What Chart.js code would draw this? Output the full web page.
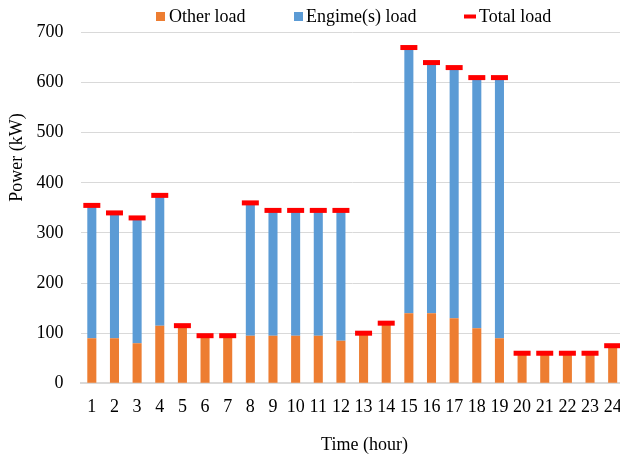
<!DOCTYPE html>
<html>
<head>
<meta charset="utf-8">
<script src="https://cdn.jsdelivr.net/npm/chart.js@4.4.1/dist/chart.umd.min.js"></script>
<style>
  html, body { margin: 0; padding: 0; background: #fff; overflow: hidden; }
  #wrap { width: 620px; height: 455px; overflow: hidden; }
  canvas { display: block; }
</style>
</head>
<body>
<div id="wrap"><canvas id="c" width="624" height="455"></canvas></div>
<script>
// Hourly load profile: other load, engine load and the total
const hours = ['1','2','3','4','5','6','7','8','9','10','11','12','13','14','15','16','17','18','19','20','21','22','23','24'];
const otherLoad = [90, 90, 80, 115, 115, 95, 95, 95, 95, 95, 95, 85, 100, 120, 140, 140, 130, 110, 90, 60, 60, 60, 60, 75];
const engineLoad = [265, 250, 250, 260, 0, 0, 0, 265, 250, 250, 250, 260, 0, 0, 530, 500, 500, 500, 520, 0, 0, 0, 0, 0];
const totalLoad = [355, 340, 330, 375, 115, 95, 95, 360, 345, 345, 345, 345, 100, 120, 670, 640, 630, 610, 610, 60, 60, 60, 60, 75];
const yTicks = [0, 100, 200, 300, 400, 500, 600, 700];

const FONT = "'Liberation Serif', 'Times New Roman', serif";
const FONT_SIZE = 18;
const ORANGE = '#ED7D31';
const BLUE = '#5B9BD5';
const RED = '#FF0000';

// Legend and axis titles drawn as text on the canvas
const annotations = {
  id: 'annotations',
  afterDraw(chart) {
    const ctx = chart.ctx;
    ctx.save();
    ctx.fillStyle = '#000';
    ctx.font = FONT_SIZE + 'px ' + FONT;
    ctx.textBaseline = 'middle';

    // legend
    const ly = 16.5;
    const items = [
      { ds: chart.data.datasets[0], x: 156, tx: 169, kind: 'box' },
      { ds: chart.data.datasets[1], x: 294, tx: 306, kind: 'box' },
      { ds: chart.data.datasets[2], x: 464, tx: 479, kind: 'dash' }
    ];
    items.forEach(it => {
      if (it.kind === 'box') {
        ctx.fillStyle = it.ds.backgroundColor;
        ctx.fillRect(it.x, ly - 4.5, 9, 9);
      } else {
        ctx.fillStyle = it.ds.borderColor;
        ctx.fillRect(it.x, ly - 2, 12, 4);
      }
      ctx.fillStyle = '#000';
      ctx.textAlign = 'left';
      ctx.fillText(it.ds.label, it.tx, ly + 1);
    });

    // x title
    ctx.textAlign = 'center';
    ctx.fillText('Time (hour)', 364.5, 445);

    // y title
    ctx.translate(17.5, 157.5);
    ctx.rotate(-Math.PI / 2);
    ctx.fillText('Power (kW)', 0, 0);
    ctx.restore();
  }
};

new Chart(document.getElementById('c'), {
  data: {
    labels: hours,
    datasets: [
      {
        type: 'bar',
        label: 'Other load',
        data: otherLoad,
        backgroundColor: ORANGE,
        stack: 'load',
        order: 1,
        barPercentage: 0.4,
        categoryPercentage: 1.0
      },
      {
        type: 'bar',
        label: 'Engime(s) load',
        data: engineLoad,
        backgroundColor: BLUE,
        stack: 'load',
        order: 1,
        barPercentage: 0.4,
        categoryPercentage: 1.0
      },
      {
        type: 'line',
        label: 'Total load',
        data: totalLoad,
        showLine: false,
        stack: 'total',
        order: 0,
        borderColor: RED,
        backgroundColor: RED,
        pointStyle: 'line',
        pointRadius: 8.5,
        pointHoverRadius: 8.5,
        pointBorderWidth: 5,
        pointBorderColor: RED,
        clip: false
      }
    ]
  },
  options: {
    responsive: false,
    animation: false,
    devicePixelRatio: 1,
    layout: { autoPadding: false, padding: { top: 32.5, right: 0, bottom: 0, left: 0 } },
    plugins: {
      legend: { display: false },
      tooltip: { enabled: false }
    },
    scales: {
      x: {
        stacked: true,
        offset: true,
        grid: { display: false, drawTicks: false },
        border: { display: true, color: '#D9D9D9', width: 2 },
        ticks: { color: '#000', font: { family: FONT, size: FONT_SIZE }, padding: 13, maxRotation: 0, autoSkip: false },
        afterFit(scale) {
          scale.height = 455 - 383.3;
          scale.paddingLeft = 0;
          scale.paddingRight = 0;
        }
      },
      y: {
        stacked: true,
        min: 0,
        max: 700,
        afterBuildTicks(scale) { scale.ticks = yTicks.map(v => ({ value: v })); },
        grid: { color: '#D9D9D9', lineWidth: 1, drawTicks: false },
        border: { display: false },
        ticks: { color: '#000', font: { family: FONT, size: FONT_SIZE }, padding: 17 },
        afterFit(scale) {
          scale.width = 80.5;
          scale.paddingTop = 0;
          scale.paddingBottom = 0;
        }
      }
    }
  },
  plugins: [annotations]
});
</script>
</body>
</html>
